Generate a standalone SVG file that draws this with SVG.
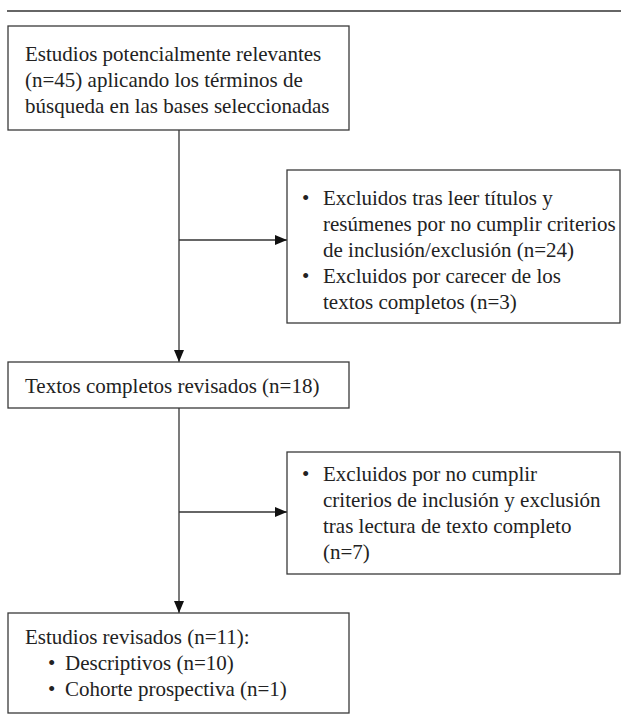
<svg xmlns="http://www.w3.org/2000/svg" width="621" height="724" viewBox="0 0 621 724">
<style>
.box{fill:#fff;stroke:#3a3a3a;stroke-width:1.3}
.t{font-family:"Liberation Serif","Times New Roman",serif;font-size:21px;fill:#222}
.c{stroke:#333;stroke-width:1.3;fill:none}
</style>
<defs>
<marker id="ah" markerUnits="userSpaceOnUse" markerWidth="13" markerHeight="11" refX="12" refY="5" orient="auto">
<path d="M0,0 L12,5 L0,10 z" fill="#111"/>
</marker>
</defs>
<rect width="621" height="724" fill="#fff"/>
<line x1="7" y1="11" x2="621" y2="11" stroke="#333" stroke-width="1.6"/>
<g id="connectors">
<line class="c" x1="179" y1="130" x2="179" y2="362" marker-end="url(#ah)"/>
<line class="c" x1="179" y1="240" x2="287" y2="240" marker-end="url(#ah)"/>
<line class="c" x1="179" y1="408" x2="179" y2="613" marker-end="url(#ah)"/>
<line class="c" x1="179" y1="512" x2="287" y2="512" marker-end="url(#ah)"/>
</g>
<g id="n1">
<rect class="box" x="8" y="26" width="341" height="104"/>
<text class="t" x="25" y="61">Estudios potencialmente relevantes</text>
<text class="t" x="25" y="87">(n=45) aplicando los términos de</text>
<text class="t" x="25" y="113">búsqueda en las bases seleccionadas</text>
</g>
<g id="n2">
<rect class="box" x="287" y="170" width="333" height="153"/>
<text class="t" x="302" y="205">•</text>
<text class="t" x="323" y="205">Excluidos tras leer títulos y</text>
<text class="t" x="323" y="231">resúmenes por no cumplir criterios</text>
<text class="t" x="323" y="257">de inclusión/exclusión (n=24)</text>
<text class="t" x="302" y="283">•</text>
<text class="t" x="323" y="283">Excluidos por carecer de los</text>
<text class="t" x="323" y="309">textos completos (n=3)</text>
</g>
<g id="n3">
<rect class="box" x="8" y="362" width="341" height="46"/>
<text class="t" x="25" y="393">Textos completos revisados (n=18)</text>
</g>
<g id="n4">
<rect class="box" x="287" y="452" width="333" height="122"/>
<text class="t" x="302" y="481">•</text>
<text class="t" x="323" y="481">Excluidos por no cumplir</text>
<text class="t" x="323" y="507">criterios de inclusión y exclusión</text>
<text class="t" x="323" y="533">tras lectura de texto completo</text>
<text class="t" x="323" y="559">(n=7)</text>
</g>
<g id="n5">
<rect class="box" x="8" y="613" width="341" height="100"/>
<text class="t" x="25" y="644">Estudios revisados (n=11):</text>
<text class="t" x="48" y="670">•</text>
<text class="t" x="65" y="670">Descriptivos (n=10)</text>
<text class="t" x="48" y="696">•</text>
<text class="t" x="65" y="696">Cohorte prospectiva (n=1)</text>
</g>
</svg>
